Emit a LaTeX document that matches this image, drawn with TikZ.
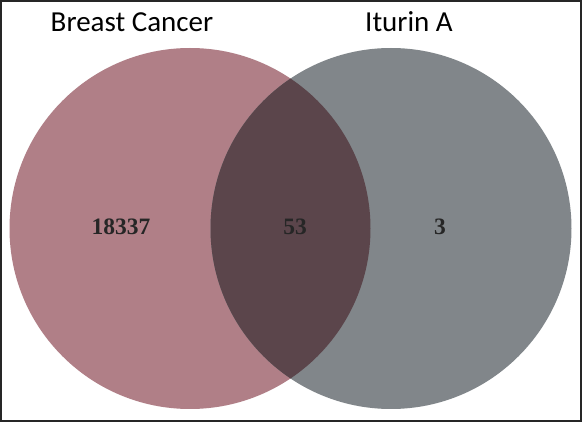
\documentclass[tikz,border=0pt]{standalone}
\usepackage{fontspec}
\setmainfont{Liberation Serif}
\newfontfamily\labelfont{Carlito}
\definecolor{pinkc}{HTML}{B07F87}
\definecolor{grayc}{HTML}{81868A}
\definecolor{overc}{HTML}{5B454B}
\begin{document}
\begin{tikzpicture}[x=1pt,y=-1pt,
  setlabel/.style={font=\labelfont\fontsize{29}{34}\selectfont, text=black},
  countlabel/.style={font=\bfseries\fontsize{23.5}{28}\selectfont, text=black!85}]
\useasboundingbox (0,0) rectangle (582,422);
\fill[white] (0,0) rectangle (582,422);
\fill[pinkc] (190,228.5) circle[radius=180.5];
\fill[grayc] (391,228.5) circle[radius=180.5];
\begin{scope}
  \clip (190,228.5) circle[radius=180.5];
  \fill[overc] (391,228.5) circle[radius=180.5];
\end{scope}
\draw[line width=1.6pt, color=black!85] (0.8,0.8) rectangle (581.2,421.2);
\node[setlabel] (bc) at (132,22) {Breast Cancer};
\node[setlabel] (it) at (409,22) {Iturin A};
\node[countlabel] (n1) at (121,227) {18337};
\node[countlabel] (n2) at (295,227) {53};
\node[countlabel] (n3) at (440,227) {3};
\end{tikzpicture}
\end{document}
